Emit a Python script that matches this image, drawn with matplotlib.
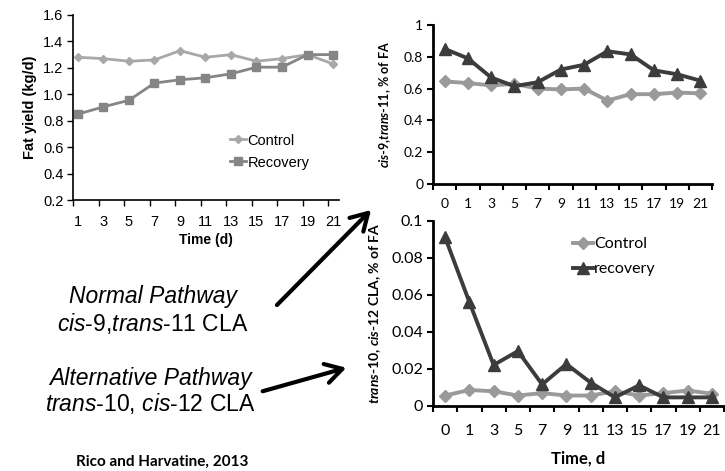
import numpy as np
import matplotlib
matplotlib.use("Agg")
import matplotlib.pyplot as plt
from matplotlib.patches import FancyArrowPatch

plt.rcParams['mathtext.fontset'] = 'custom'
plt.rcParams['mathtext.it'] = 'Liberation Sans:italic'
plt.rcParams['mathtext.rm'] = 'Liberation Sans'
plt.rcParams['mathtext.bfit'] = 'Lato:bold:italic'
plt.rcParams['mathtext.bf'] = 'Lato:bold'

# ---- data ----
# fat yield panel (top left)
fat_days = [1, 3, 5, 7, 9, 11, 13, 15, 17, 19, 21]
fat_control = [1.28, 1.27, 1.25, 1.26, 1.33, 1.28, 1.30, 1.25, 1.27, 1.30, 1.23]
fat_recovery = [0.85, 0.905, 0.955, 1.085, 1.11, 1.125, 1.155, 1.205, 1.205, 1.30, 1.30]

# CLA panels (right)
cla_days = ['0', '1', '3', '5', '7', '9', '11', '13', '15', '17', '19', '21']
c9t11_control = [0.645, 0.635, 0.62, 0.63, 0.60, 0.595, 0.60, 0.525, 0.565, 0.565, 0.575, 0.57]
c9t11_recovery = [0.85, 0.79, 0.67, 0.615, 0.64, 0.72, 0.75, 0.835, 0.815, 0.715, 0.69, 0.65]
t10c12_control = [0.0055, 0.0085, 0.0078, 0.0055, 0.0068, 0.0055, 0.0055, 0.0078, 0.0055, 0.0068, 0.0082, 0.0065]
t10c12_recovery = [0.091, 0.056, 0.022, 0.0295, 0.0115, 0.0225, 0.0125, 0.0045, 0.011, 0.0045, 0.0045, 0.0045]

W, H = 725, 471


def box(left, top, right, bottom):
    """pixel box -> figure fraction rect"""
    return [left / W, 1 - bottom / H, (right - left) / W, (bottom - top) / H]


def fig_xy(px, py):
    return (px / W, 1 - py / H)


fig = plt.figure(figsize=(W / 100, H / 100), dpi=100)
fig.patch.set_facecolor('white')

# ---------- top left: fat yield ----------
ax1 = fig.add_axes(box(73, 15, 339, 200))
ax1.plot(fat_days, fat_control, color='#a8a8a8', lw=2, marker='D', ms=4,
         mfc='#a8a8a8', mec='#a8a8a8', label='Control')
ax1.plot(fat_days, fat_recovery, color='#858585', lw=2, marker='s', ms=6,
         mfc='#858585', mec='#858585', label='Recovery')
ax1.set_xlim(0.61, 21.47)
ax1.set_ylim(0.2, 1.6)
ax1.set_yticks(np.arange(0.2, 1.61, 0.2))
ax1.set_yticklabels(['%.1f' % v for v in np.arange(0.2, 1.61, 0.2)])
ax1.set_xticks(fat_days)
ax1.set_xticklabels([str(d) for d in fat_days])
ax1.set_xticks(np.arange(0.61, 21, 2), minor=True)
ax1.tick_params(axis='x', which='major', length=0, pad=11)
ax1.tick_params(axis='x', which='minor', length=4, width=1, direction='out')
ax1.tick_params(axis='y', length=4, width=1, direction='out', pad=3)
for lab in ax1.get_xticklabels() + ax1.get_yticklabels():
    lab.set_fontfamily('Liberation Sans')
    lab.set_fontsize(10.5)
for s in ['top', 'right']:
    ax1.spines[s].set_visible(False)
for s in ['left', 'bottom']:
    ax1.spines[s].set_linewidth(1.2)
ax1.set_xlabel('Time (d)', fontfamily='Liberation Sans', fontweight='bold', fontsize=10, labelpad=3)
ax1.set_ylabel('Fat yield (kg/d)', fontfamily='Liberation Sans', fontweight='bold', fontsize=10.5, labelpad=4)
leg1 = ax1.legend(loc='upper left', bbox_to_anchor=(0.54, 0.43), frameon=False,
                  handlelength=1.1, handletextpad=0.1, labelspacing=0.55,
                  prop={'family': 'Liberation Sans', 'size': 10.5})

# ---------- top right: cis-9, trans-11 ----------
x = np.arange(len(cla_days))
ax2 = fig.add_axes(box(433, 25, 712, 184))
ax2.plot(x, c9t11_control, color='#9a9a9a', lw=2.8, marker='D', ms=6,
         mfc='#9a9a9a', mec='#9a9a9a')
ax2.plot(x, c9t11_recovery, color='#3c3c3c', lw=2.8, marker='^', ms=8,
         mfc='#3c3c3c', mec='#3c3c3c')
ax2.set_ylim(0, 1)
ax2.set_yticks([0, 0.2, 0.4, 0.6, 0.8, 1])
ax2.set_yticklabels(['0', '0.2', '0.4', '0.6', '0.8', '1'])

# ---------- bottom right: trans-10, cis-12 ----------
ax3 = fig.add_axes(box(433, 220.7, 724, 405.7))
ax3.plot(x, t10c12_control, color='#9a9a9a', lw=2.8, marker='D', ms=6.5,
         mfc='#9a9a9a', mec='#9a9a9a', label='Control')
ax3.plot(x, t10c12_recovery, color='#3c3c3c', lw=2.8, marker='^', ms=9,
         mfc='#3c3c3c', mec='#3c3c3c', label='recovery')
ax3.set_ylim(0, 0.1)
ax3.set_yticks([0, 0.02, 0.04, 0.06, 0.08, 0.1])
ax3.set_yticklabels(['0', '0.02', '0.04', '0.06', '0.08', '0.1'])

for ax, fs, pad in [(ax2, 10, 10), (ax3, 11.5, 13)]:
    ax.set_xlim(-0.5, len(cla_days) - 0.5)
    ax.set_xticks(x)
    ax.set_xticklabels(cla_days)
    ax.set_xticks(np.arange(-0.5, len(cla_days), 1), minor=True)
    ax.tick_params(axis='x', which='major', length=0, pad=pad)
    ax.tick_params(axis='x', which='minor', length=4, width=1.5, direction='out')
    ax.tick_params(axis='y', length=4, width=1.5, direction='out', pad=3)
    for lab in ax.get_xticklabels() + ax.get_yticklabels():
        lab.set_fontfamily('Lato')
        lab.set_fontsize(fs)
    for s in ['top', 'right']:
        ax.spines[s].set_visible(False)
    for s in ['left', 'bottom']:
        ax.spines[s].set_linewidth(2)

ax2.set_ylabel(r'$\mathbfit{cis}$-9,$\mathbfit{trans}$-11, % of FA',
               fontfamily='Lato', fontweight='bold', fontsize=9, labelpad=8)
ax3.set_ylabel(r'$\mathbfit{trans}$-10, $\mathbfit{cis}$-12 CLA, % of FA',
               fontfamily='Lato', fontweight='bold', fontsize=10, labelpad=6)
ax3.set_xlabel('Time, d', fontfamily='Lato', fontweight='bold', fontsize=12, labelpad=9)
leg3 = ax3.legend(loc='upper left', bbox_to_anchor=(0.43, 0.99), frameon=False,
                  handlelength=1.3, handletextpad=0.05, labelspacing=0.7,
                  prop={'family': 'Lato', 'size': 11.5})

# ---------- annotations ----------
fig.text(*fig_xy(153, 297), 'Normal Pathway', ha='center', va='center',
         fontfamily='Liberation Sans', fontstyle='italic', fontsize=16.5)
fig.text(*fig_xy(153, 323), r'$\mathit{cis}$-9,$\mathit{trans}$-11 CLA', ha='center', va='center',
         fontfamily='Liberation Sans', fontsize=16.5)
fig.text(*fig_xy(150, 378), 'Alternative Pathway', ha='center', va='center',
         fontfamily='Liberation Sans', fontstyle='italic', fontsize=16.5)
fig.text(*fig_xy(150, 403), r'$\mathit{trans}$-10, $\mathit{cis}$-12 CLA', ha='center', va='center',
         fontfamily='Liberation Sans', fontsize=16.5)
fig.text(*fig_xy(162, 462), 'Rico and Harvatine, 2013', ha='center', va='center',
         fontfamily='Lato', fontweight='bold', fontsize=11)

arrow_style = dict(arrowstyle='->, head_length=0.6, head_width=0.35', color='black', lw=3)
fig.add_artist(FancyArrowPatch(fig_xy(275, 307), fig_xy(373, 208),
                               transform=fig.transFigure, mutation_scale=20, **arrow_style))
fig.add_artist(FancyArrowPatch(fig_xy(260, 392), fig_xy(349, 367),
                               transform=fig.transFigure, mutation_scale=20, **arrow_style))

fig.savefig('out.png', dpi=100, facecolor='white')
